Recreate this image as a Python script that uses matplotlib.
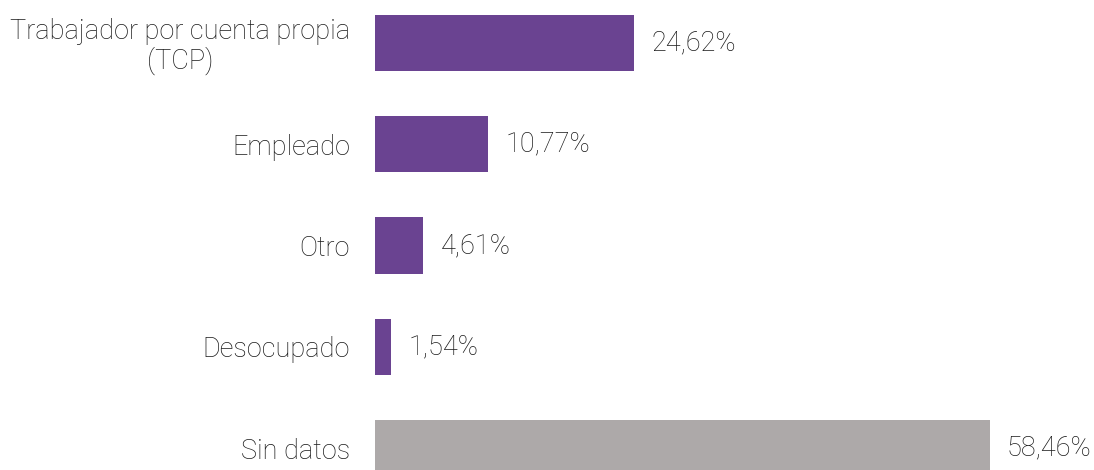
import matplotlib
matplotlib.use("Agg")
import matplotlib.pyplot as plt

categories = ["Trabajador por cuenta propia\n(TCP)", "Empleado", "Otro", "Desocupado", "Sin datos"]
values = [24.62, 10.77, 4.61, 1.54, 58.46]
colors = ["#6A4391", "#6A4391", "#6A4391", "#6A4391", "#ADA9A9"]
value_labels = ["24,62%", "10,77%", "4,61%", "1,54%", "58,46%"]

plt.rcParams["font.family"] = ["Roboto", "DejaVu Sans"]

W, H = 1094, 470
fig = plt.figure(figsize=(W / 100, H / 100), dpi=100)
xmax = 68
left = 375 / W
width = xmax * 10.52 / W
ax = fig.add_axes([left, 0, width, 1])

ypos = list(range(len(categories)))
ax.barh(ypos, values, height=0.555, color=colors)
ax.set_xlim(0, xmax)
ax.set_ylim(4.215, -0.4245)

fs = 19.5
for y, v, lab in zip(ypos, values, value_labels):
    ax.annotate(lab, xy=(v, y), xytext=(17, 0), textcoords="offset pixels",
                va="center", ha="left", fontsize=fs, fontweight="light", color="#1a1a1a")

ax.set_yticks(ypos)
ax.set_yticklabels(categories, fontsize=fs, fontweight="light", color="#1a1a1a",
                   multialignment="center", linespacing=1.05)
ax.tick_params(axis="y", length=0, pad=18)
ax.set_xticks([])
for s in ax.spines.values():
    s.set_visible(False)

fig.savefig("out.png", dpi=100)
